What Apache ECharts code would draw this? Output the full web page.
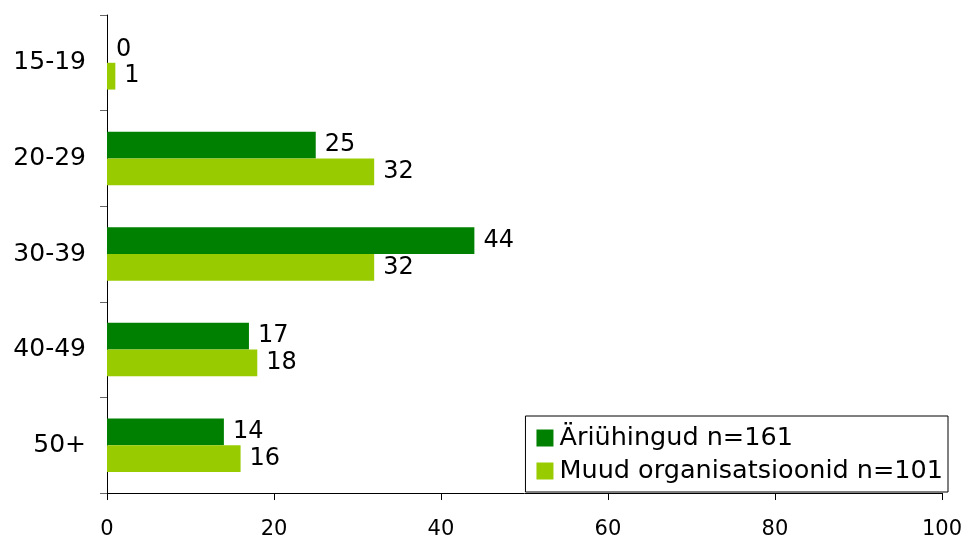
<!DOCTYPE html>
<html lang="et">
<head>
    <meta charset="UTF-8">
    <title>Vanuserühmad</title>
    <script type="text/javascript" src="https://cdn.jsdelivr.net/npm/echarts@6/dist/echarts.min.js"></script>
    <style>
        html, body { margin: 0; padding: 0; background: #fff; }
        #chart { width: 965px; height: 540px; }
    </style>
</head>
<body>
<div id="chart"></div>
<script>
    var categories = ['15-19', '20-29', '30-39', '40-49', '50+'];
    var seriesNames = ['Äriühingud n=161', 'Muud organisatsioonid n=101'];
    var ariyhingud = [0, 25, 44, 17, 14];
    var muud = [1, 32, 32, 18, 16];
    var xTicks = [0, 20, 40, 60, 80, 100];

    var font = '"DejaVu Sans", Verdana, sans-serif';
    var mychart = echarts.init(document.getElementById('chart'));

    function barLabel() {
        return {
            show: true,
            position: 'right',
            distance: 9,
            color: '#000',
            fontFamily: font,
            fontSize: 24
        };
    }

    var option = {
        animation: false,
        backgroundColor: '#fff',
        grid: {
            left: 107,
            right: 23,
            top: 15,
            bottom: 45
        },
        legend: {
            orient: 'vertical',
            right: 17,
            bottom: 48,
            icon: 'rect',
            itemWidth: 17,
            itemHeight: 17,
            itemGap: 7,
            padding: [9, 5, 8, 11],
            borderColor: '#000',
            borderWidth: 1,
            backgroundColor: '#fff',
            textStyle: {
                fontFamily: font,
                fontSize: 25.5,
                color: '#000',
                padding: [0, 0, 0, 1]
            },
            data: seriesNames
        },
        xAxis: {
            type: 'value',
            min: xTicks[0],
            max: xTicks[xTicks.length - 1],
            interval: 20,
            splitLine: { show: false },
            axisLine: { show: true, lineStyle: { color: '#000', width: 1 } },
            axisTick: { show: true, length: 7, lineStyle: { color: '#000' } },
            axisLabel: {
                margin: 26,
                color: '#000',
                fontFamily: font,
                fontSize: 21
            }
        },
        yAxis: {
            type: 'category',
            inverse: true,
            data: categories,
            axisLine: { show: true, lineStyle: { color: '#000', width: 1 } },
            axisTick: { show: true, length: 7, lineStyle: { color: '#666' } },
            axisLabel: {
                margin: 21,
                color: '#000',
                fontFamily: font,
                fontSize: 25
            }
        },
        series: [
            {
                name: seriesNames[0],
                type: 'bar',
                data: ariyhingud,
                barGap: 0,
                barCategoryGap: '44%',
                itemStyle: { color: '#008000' },
                label: barLabel()
            },
            {
                name: seriesNames[1],
                type: 'bar',
                data: muud,
                barGap: 0,
                barCategoryGap: '44%',
                itemStyle: { color: '#99cc00' },
                label: barLabel()
            }
        ]
    };
    mychart.setOption(option);
</script>
</body>
</html>
